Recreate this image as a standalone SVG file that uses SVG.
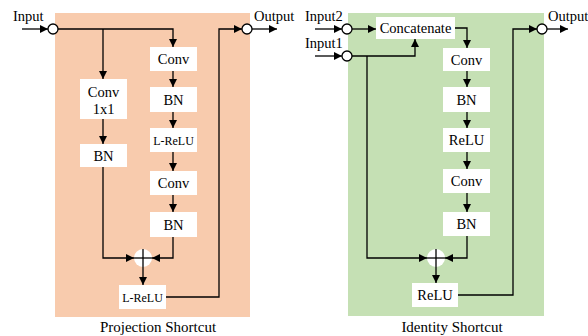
<svg xmlns="http://www.w3.org/2000/svg" width="588" height="336" viewBox="0 0 588 336" font-family="'Liberation Serif', 'DejaVu Serif', serif">
<defs>
<marker id="ah" viewBox="0 0 8 8" refX="8" refY="4" markerWidth="8" markerHeight="8" markerUnits="userSpaceOnUse" orient="auto">
<path d="M0,0 L8,4 L0,8 Z" fill="#000"/>
</marker>
</defs>
<style>
.box{fill:#fff}
text{font-family:'Liberation Serif','DejaVu Serif',serif}
.t{font-size:14.5px;fill:#000;text-anchor:middle}
.s{font-size:12px}
.io{font-size:14.5px;fill:#000}
.cap{font-size:15px;fill:#000;text-anchor:middle}
.ln{stroke:#000;stroke-width:1.3;fill:none}
.a{marker-end:url(#ah)}
.pt{fill:#fff;stroke:#000;stroke-width:1.3}
.sum{fill:#fff}
</style>
<rect id="panel-left" x="55" y="13" width="195" height="304" fill="#F8CBAD"/>
<rect id="panel-right" x="348" y="13" width="196" height="303" fill="#C5E0B4"/>

<g id="connectors">
<line class="ln a" x1="22" y1="29" x2="48" y2="29"/>
<polyline class="ln a" points="58,29 173,29 173,47"/>
<line class="ln a" x1="103" y1="29" x2="103" y2="79"/>
<line class="ln a" x1="173" y1="71" x2="173" y2="87"/>
<line class="ln a" x1="173" y1="112" x2="173" y2="128"/>
<line class="ln a" x1="173" y1="152" x2="173" y2="171"/>
<line class="ln a" x1="173" y1="195" x2="173" y2="212"/>
<line class="ln a" x1="103" y1="119" x2="103" y2="144"/>
<polyline class="ln a" points="103,167 103,258 134,258"/>
<polyline class="ln a" points="173,237 173,258 152,258"/>
<line class="ln a" x1="143" y1="267" x2="143" y2="285"/>
<polyline class="ln a" points="166,297 219,297 219,29 242,29"/>
<line class="ln a" x1="252" y1="29" x2="277" y2="29"/>

<line class="ln a" x1="315" y1="29" x2="342" y2="29"/>
<line class="ln a" x1="352" y1="29" x2="376" y2="29"/>
<line class="ln a" x1="315" y1="56" x2="342" y2="56"/>
<polyline class="ln a" points="352,56 415,56 415,39"/>
<polyline class="ln a" points="367,56 367,258 427,258"/>
<polyline class="ln a" points="455,28 467,28 467,48"/>
<line class="ln a" x1="467" y1="71" x2="467" y2="87"/>
<line class="ln a" x1="467" y1="112" x2="467" y2="128"/>
<line class="ln a" x1="467" y1="152" x2="467" y2="169"/>
<line class="ln a" x1="467" y1="193" x2="467" y2="212"/>
<polyline class="ln a" points="467,236 467,258 445,258"/>
<line class="ln a" x1="436" y1="267" x2="436" y2="283"/>
<polyline class="ln a" points="458,295 513,295 513,29 537,29"/>
<line class="ln a" x1="547" y1="29" x2="568" y2="29"/>
</g>

<g id="input"><text class="io" x="13" y="21">Input</text><circle class="pt" cx="53" cy="29" r="5"/></g>
<g id="output-left"><circle class="pt" cx="247" cy="29" r="5"/><text class="io" x="254" y="21">Output</text></g>
<g id="conv1x1"><rect class="box" x="80" y="79" width="47" height="40"/><text class="t" x="103.5" y="97">Conv</text><text class="t" x="103.5" y="114">1x1</text></g>
<g id="bn-left"><rect class="box" x="80" y="144" width="47" height="23"/><text class="t" x="103.5" y="160.5">BN</text></g>
<g id="conv-a"><rect class="box" x="150" y="47" width="47" height="24"/><text class="t" x="173.5" y="64">Conv</text></g>
<g id="bn-a"><rect class="box" x="150" y="87" width="47" height="25"/><text class="t" x="173.5" y="104.5">BN</text></g>
<g id="lrelu-a"><rect class="box" x="150" y="128" width="47" height="24"/><text class="t s" x="173.5" y="144.5">L-ReLU</text></g>
<g id="conv-b"><rect class="box" x="150" y="171" width="47" height="24"/><text class="t" x="173.5" y="188">Conv</text></g>
<g id="bn-b"><rect class="box" x="150" y="212" width="47" height="25"/><text class="t" x="173.5" y="229.5">BN</text></g>
<g id="sum-left"><circle class="sum" cx="143" cy="258" r="9"/><line class="ln" x1="143" y1="249" x2="143" y2="267"/><line class="ln" x1="134" y1="258" x2="152" y2="258"/></g>
<g id="lrelu-out"><rect class="box" x="119" y="285" width="47" height="24"/><text class="t s" x="142.5" y="301.5">L-ReLU</text></g>
<text class="cap" x="158" y="332">Projection Shortcut</text>

<g id="input2"><text class="io" x="305" y="21">Input2</text><circle class="pt" cx="347" cy="29" r="5"/></g>
<g id="input1"><text class="io" x="305" y="48">Input1</text><circle class="pt" cx="347" cy="56" r="5"/></g>
<g id="concat"><rect class="box" x="376" y="17" width="79" height="22"/><text class="t" x="415.5" y="32.5">Concatenate</text></g>
<g id="conv-c"><rect class="box" x="443" y="48" width="47" height="23"/><text class="t" x="466.5" y="64.5">Conv</text></g>
<g id="bn-c"><rect class="box" x="443" y="87" width="47" height="25"/><text class="t" x="466.5" y="104.5">BN</text></g>
<g id="relu-c"><rect class="box" x="443" y="128" width="47" height="24"/><text class="t" x="466.5" y="145">ReLU</text></g>
<g id="conv-d"><rect class="box" x="443" y="169" width="47" height="24"/><text class="t" x="466.5" y="186">Conv</text></g>
<g id="bn-d"><rect class="box" x="443" y="212" width="47" height="24"/><text class="t" x="466.5" y="229">BN</text></g>
<g id="sum-right"><circle class="sum" cx="436" cy="258" r="9"/><line class="ln" x1="436" y1="249" x2="436" y2="267"/><line class="ln" x1="427" y1="258" x2="445" y2="258"/></g>
<g id="relu-out"><rect class="box" x="412" y="283" width="46" height="24"/><text class="t" x="435" y="300">ReLU</text></g>
<g id="output-right"><circle class="pt" cx="542" cy="29" r="5"/><text class="io" x="548" y="21">Output</text></g>
<text class="cap" x="452" y="332">Identity Shortcut</text>
</svg>
